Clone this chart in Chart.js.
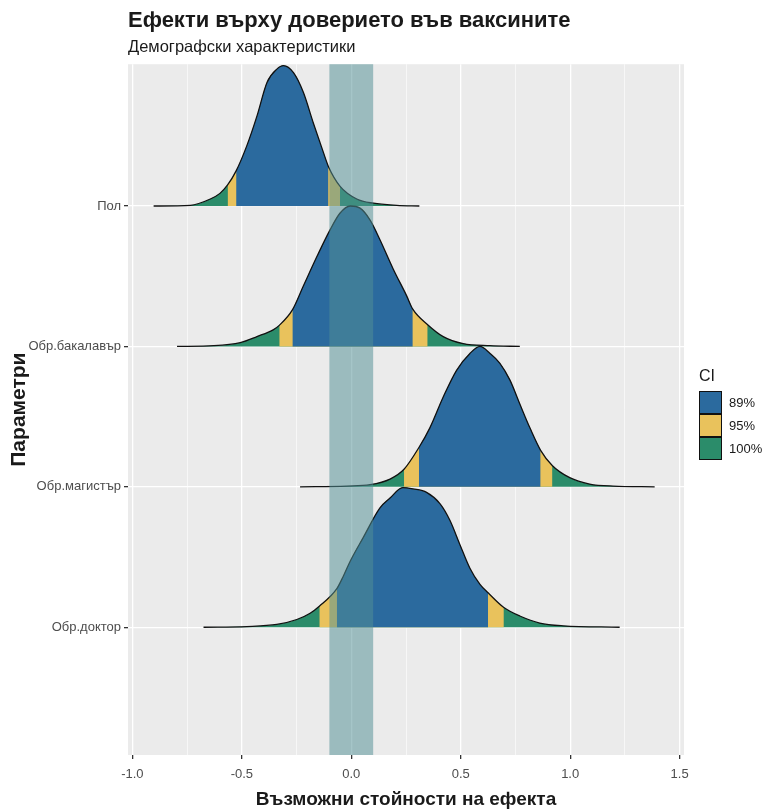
<!DOCTYPE html>
<html>
<head>
<meta charset="utf-8">
<script src="https://cdn.jsdelivr.net/npm/chart.js@4.4.1/dist/chart.umd.min.js"></script>
<style>
  html, body { margin: 0; padding: 0; background: #fff; }
  #wrap { width: 764px; height: 811px; }
</style>
</head>
<body>
<div id="wrap"><canvas id="chart" width="764" height="811"></canvas></div>
<script>
// parameters, top to bottom
const params = ['Пол', 'Обр.бакалавър', 'Обр.магистър', 'Обр.доктор'];

// density curves (x = effect, d = scaled density, peak = 1)
const polX = [-0.903, -0.735, -0.644, -0.600, -0.565, -0.526, -0.477, -0.431, -0.385, -0.340, -0.310, -0.264, -0.219, -0.173, -0.127, -0.104, -0.051, 0.025, 0.101, 0.208, 0.311];
const polD = [0, 0.005, 0.05, 0.09, 0.15, 0.25, 0.43, 0.64, 0.88, 0.975, 1.0, 0.95, 0.81, 0.59, 0.38, 0.28, 0.14, 0.05, 0.02, 0.005, 0];

const bakX = [-0.796, -0.629, -0.507, -0.431, -0.355, -0.329, -0.269, -0.219, -0.157, -0.097, -0.051, -0.005, 0.040, 0.086, 0.131, 0.192, 0.253, 0.281, 0.349, 0.420, 0.511, 0.633, 0.770];
const bakD = [0, 0.005, 0.027, 0.07, 0.12, 0.15, 0.26, 0.43, 0.64, 0.83, 0.95, 1.0, 0.985, 0.90, 0.76, 0.55, 0.36, 0.265, 0.155, 0.07, 0.02, 0.005, 0];

const magX = [-0.234, -0.021, 0.086, 0.177, 0.241, 0.309, 0.359, 0.420, 0.481, 0.542, 0.588, 0.634, 0.679, 0.725, 0.770, 0.816, 0.865, 0.919, 0.998, 1.089, 1.196, 1.386];
const magD = [0, 0.005, 0.015, 0.055, 0.125, 0.28, 0.42, 0.64, 0.83, 0.95, 1.0, 0.95, 0.88, 0.76, 0.59, 0.42, 0.26, 0.15, 0.065, 0.02, 0.005, 0];

const dokX = [-0.675, -0.477, -0.340, -0.249, -0.188, -0.146, -0.066, -0.036, -0.005, 0.055, 0.131, 0.177, 0.235, 0.283, 0.344, 0.405, 0.451, 0.496, 0.542, 0.588, 0.625, 0.697, 0.770, 0.861, 0.968, 1.226];
const dokD = [0, 0.005, 0.02, 0.055, 0.10, 0.15, 0.275, 0.365, 0.47, 0.64, 0.85, 0.92, 0.995, 0.985, 0.96, 0.88, 0.76, 0.59, 0.42, 0.305, 0.245, 0.14, 0.08, 0.03, 0.01, 0];

// credible intervals per parameter
const ci89 = [[-0.526, -0.104], [-0.269, 0.281], [0.309, 0.865], [-0.066, 0.625]];
const ci95 = [[-0.565, -0.051], [-0.329, 0.349], [0.241, 0.919], [-0.146, 0.697]];

const ciLabels = ['89%', '95%', '100%'];
const ciColors = ['#2b6a9e', '#e9c25c', '#2b8c6a'];

// shaded region around zero
const ropeRange = [-0.1, 0.1];

const xTicks = [-1.0, -0.5, 0.0, 0.5, 1.0, 1.5];
const xMinor = [-0.75, -0.25, 0.25, 0.75, 1.25];

const FONT = "'Liberation Sans', Arial, Helvetica, sans-serif";
Chart.defaults.font.family = FONT;

const curves = [[polX, polD], [bakX, bakD], [magX, magD], [dokX, dokD]];
const rowBase = params.map((p, i) => params.length - i);

function points(xs, ds, base, lo, hi) {
    return xs.map((x, j) => ({ x: x, y: base + ds[j] }))
        .filter(p => p.x >= lo - 1e-9 && p.x <= hi + 1e-9);
}

// build datasets in drawing sequence
const seq = [];
curves.forEach(([xs, ds], i) => {
    const base = rowBase[i];
    const common = { pointRadius: 0, cubicInterpolationMode: 'monotone', fill: { value: base } };
    seq.push({ ...common, data: points(xs, ds, base, -Infinity, Infinity), backgroundColor: ciColors[2], borderWidth: 0 });
    seq.push({ ...common, data: points(xs, ds, base, ci95[i][0], ci95[i][1]), backgroundColor: ciColors[1], borderWidth: 0 });
    seq.push({ ...common, data: points(xs, ds, base, ci89[i][0], ci89[i][1]), backgroundColor: ciColors[0], borderWidth: 0 });
    seq.push({ pointRadius: 0, cubicInterpolationMode: 'monotone', fill: false,
        data: points(xs, ds, base, -Infinity, Infinity), borderColor: '#111', borderWidth: 1.3 });
});
const datasets = seq.map((d, k) => ({ ...d, order: seq.length - k }));

const panelBg = {
    id: 'panelBg',
    beforeDraw(chart) {
        const { ctx, chartArea: a } = chart;
        ctx.save();
        ctx.fillStyle = '#ebebeb';
        ctx.fillRect(a.left, a.top, a.right - a.left, a.bottom - a.top);
        ctx.restore();
    }
};

const ropeBand = {
    id: 'ropeBand',
    afterDatasetsDraw(chart) {
        const { ctx, chartArea: a, scales } = chart;
        const x0 = scales.x.getPixelForValue(ropeRange[0]);
        const x1 = scales.x.getPixelForValue(ropeRange[1]);
        ctx.save();
        ctx.fillStyle = 'rgba(82,143,149,0.52)';
        ctx.fillRect(x0, a.top, x1 - x0, a.bottom - a.top);
        ctx.restore();
    }
};

const ciLegend = {
    id: 'ciLegend',
    afterDraw(chart) {
        const { ctx, chartArea: a } = chart;
        const left = a.right + 15;
        const top = 391;
        const size = 23;
        ctx.save();
        ctx.fillStyle = '#1a1a1a';
        ctx.font = '16px ' + FONT;
        ctx.textBaseline = 'middle';
        ctx.fillText('CI', left, top - 14);
        ctx.font = '13px ' + FONT;
        ciLabels.forEach((lab, k) => {
            const y = top + k * size;
            ctx.fillStyle = ciColors[k];
            ctx.fillRect(left, y, size, size);
            ctx.strokeStyle = '#111';
            ctx.lineWidth = 1;
            ctx.strokeRect(left + 0.5, y + 0.5, size - 1, size - 1);
            ctx.fillStyle = '#1a1a1a';
            ctx.fillText(lab, left + size + 7, y + size / 2 + 1);
        });
        ctx.restore();
    }
};

new Chart(document.getElementById('chart'), {
    type: 'line',
    data: { datasets: datasets },
    options: {
        responsive: false,
        animation: false,
        devicePixelRatio: 1,
        layout: { padding: { top: 0, right: 80, bottom: 0, left: 0 } },
        plugins: {
            legend: { display: false },
            tooltip: { enabled: false },
            title: {
                display: true, text: 'Ефекти върху доверието във ваксините', align: 'start', fullSize: false,
                color: '#1a1a1a', font: { size: 22, weight: 'bold' }, padding: { top: 8, bottom: 0 }
            },
            subtitle: {
                display: true, text: 'Демографски характеристики', align: 'start', fullSize: false,
                color: '#1a1a1a', font: { size: 16.5 }, padding: { top: 3, bottom: 7 }
            }
        },
        scales: {
            x: {
                type: 'linear', min: -1.02, max: 1.52,
                afterBuildTicks: s => { s.ticks = xTicks.concat(xMinor).sort((a, b) => a - b).map(v => ({ value: v })); },
                afterFit: s => { s.height = 56; },
                ticks: {
                    autoSkip: false, maxRotation: 0, padding: 8, color: '#4d4d4d', font: { size: 13 },
                    callback: v => xTicks.includes(v) ? v.toFixed(1) : ''
                },
                grid: {
                    color: '#ffffff',
                    lineWidth: c => (c.tick && xTicks.includes(c.tick.value)) ? 1.3 : 0.6,
                    tickColor: c => (c.tick && xTicks.includes(c.tick.value)) ? '#333333' : 'rgba(0,0,0,0)',
                    tickLength: 4
                },
                border: { display: false },
                title: {
                    display: true, text: 'Възможни стойности на ефекта', color: '#1a1a1a',
                    font: { size: 19, weight: 'bold' }, padding: { top: 0, bottom: 0 }
                }
            },
            y: {
                type: 'linear', min: 0.09, max: 5.01,
                afterBuildTicks: s => { s.ticks = rowBase.map(v => ({ value: v })); },
                afterFit: s => { s.width = 128; },
                ticks: {
                    autoSkip: false, padding: 3, color: '#4d4d4d', font: { size: 13 },
                    callback: v => params[params.length - v]
                },
                grid: { color: '#ffffff', lineWidth: 1.3, tickColor: '#333333', tickLength: 4 },
                border: { display: false },
                title: {
                    display: true, text: 'Параметри', color: '#1a1a1a',
                    font: { size: 21, weight: 'bold' }, padding: { top: 7, bottom: 0 }
                }
            }
        }
    },
    plugins: [panelBg, ropeBand, ciLegend]
});
</script>
</body>
</html>
